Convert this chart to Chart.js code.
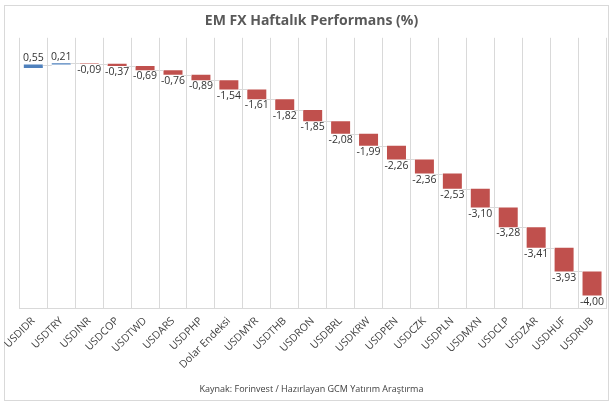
<!DOCTYPE html>
<html>
<head>
<meta charset="utf-8">
<script src="https://cdn.jsdelivr.net/npm/chart.js@4"></script>
<style>
  html, body { margin: 0; padding: 0; background: #fff; }
  #box { position: absolute; left: 4px; top: 5px; width: 605px; height: 396px; border: 1px solid #d9d9d9; box-sizing: border-box; }
  #wrap { position: absolute; left: 0; top: 0; width: 614px; height: 407px; }
</style>
</head>
<body>
<div id="box"></div>
<div id="wrap"><canvas id="myChart"></canvas></div>
<script>
const labels = ['USDIDR','USDTRY','USDINR','USDCOP','USDTWD','USDARS','USDPHP','Dolar Endeksi','USDMYR','USDTHB','USDRON','USDBRL','USDKRW','USDPEN','USDCZK','USDPLN','USDMXN','USDCLP','USDZAR','USDHUF','USDRUB'];
const values = [0.55, 0.21, -0.09, -0.37, -0.69, -0.76, -0.89, -1.54, -1.61, -1.82, -1.85, -2.08, -1.99, -2.26, -2.36, -2.53, -3.10, -3.28, -3.41, -3.93, -4.00];

// waterfall: each bar starts where the previous one ended
let run = 0;
const ranges = values.map(function (v) {
    const start = run;
    run += v;
    return [start, run];
});
const colors = values.map(v => v >= 0 ? '#4F81BD' : '#C0504D');

const fmt = v => v.toFixed(2).replace('.', ',');

const waterfallExtras = {
    id: 'waterfallExtras',
    afterDatasetsDraw(chart) {
        const ctx = chart.ctx;
        const meta = chart.getDatasetMeta(0);
        const yScale = chart.scales.y;
        ctx.save();
        // connector lines
        ctx.strokeStyle = '#d9d9d9';
        ctx.lineWidth = 1;
        for (let i = 0; i < meta.data.length - 1; i++) {
            const a = meta.data[i], b = meta.data[i + 1];
            const yy = Math.round(yScale.getPixelForValue(ranges[i][1])) + 0.5;
            ctx.beginPath();
            ctx.moveTo(a.x + a.width / 2, yy);
            ctx.lineTo(b.x - b.width / 2, yy);
            ctx.stroke();
        }
        // value labels
        ctx.fillStyle = '#333333';
        ctx.font = '10.5px "Open Sans", sans-serif';
        ctx.textAlign = 'center';
        meta.data.forEach(function (bar, i) {
            const top = Math.min(bar.y, bar.base);
            const bottom = Math.max(bar.y, bar.base);
            if (values[i] >= 0) {
                ctx.textBaseline = 'bottom';
                ctx.fillText(fmt(values[i]), bar.x, top - 1);
            } else {
                ctx.textBaseline = 'top';
                ctx.fillText(fmt(values[i]), bar.x, bottom + 1);
            }
        });
        ctx.restore();
    }
};

const data = {
    labels: labels,
    datasets: [{
        label: 'Haftalık',
        data: ranges,
        backgroundColor: colors,
        borderColor: colors,
        borderWidth: 0,
        barPercentage: 0.68,
        categoryPercentage: 1.0,
    }]
};

const options = {
    responsive: true,
    maintainAspectRatio: false,
    animation: false,
    layout: {
        padding: { left: 17, right: 8, top: 4, bottom: 12 }
    },
    scales: {
        x: {
            grid: {
                color: '#d9d9d9',
                offset: true,
                drawTicks: false
            },
            border: { color: '#d9d9d9' },
            ticks: {
                color: '#404040',
                font: { family: '"Open Sans", sans-serif', size: 10.5 },
                minRotation: 45,
                maxRotation: 45,
                autoSkip: false,
                padding: 6
            }
        },
        y: {
            display: false,
            min: -40,
            max: 5
        }
    },
    plugins: {
        legend: { display: false },
        tooltip: { enabled: false },
        title: {
            display: true,
            text: 'EM FX Haftalık Performans (%)',
            color: '#595959',
            font: { family: '"Open Sans", sans-serif', size: 14, weight: 'bold' },
            padding: { top: 9, bottom: 8 }
        },
        subtitle: {
            display: true,
            position: 'bottom',
            text: 'Kaynak: Forinvest / Hazırlayan GCM Yatırım Araştırma',
            color: '#404040',
            font: { family: '"Open Sans", sans-serif', size: 9 },
            padding: { top: 7, bottom: 0 }
        }
    }
};

const myChart = new Chart(document.getElementById('myChart'), {
    type: 'bar',
    data: data,
    options: options,
    plugins: [waterfallExtras]
});
</script>
</body>
</html>
